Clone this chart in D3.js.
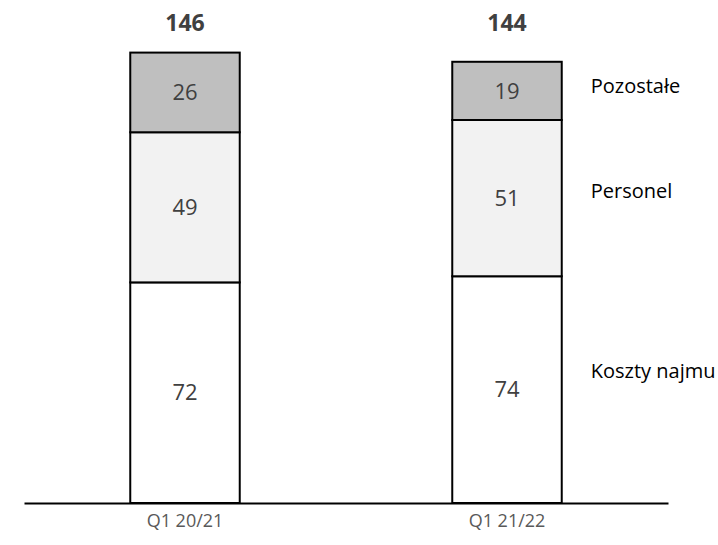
<!DOCTYPE html>
<html>
<head>
<meta charset="utf-8">
<script src="https://cdn.jsdelivr.net/npm/d3@7"></script>
<style>
  html, body { margin: 0; padding: 0; background: #fff; }
  svg { display: block; font-family: "Open Sans", "Noto Sans", sans-serif; }
</style>
</head>
<body>
<svg id="chart" width="718" height="545"></svg>
<script>
// Quarterly cost structure (stacked, bottom to top)
const periods = ["Q1 20/21", "Q1 21/22"];
const seriesNames = ["Koszty najmu", "Personel", "Pozostałe"];
const kosztyNajmu = [72, 74];
const personel = [49, 51];
const pozostale = [26, 19];
const totals = [146, 144];

const fills = ["#ffffff", "#f2f2f2", "#bfbfbf"];

const svg = d3.select("#chart");
const baseY = 503;

const x = d3.scaleBand()
  .domain(periods)
  .range([24, 668])
  .paddingInner(0.66)
  .paddingOuter(0.33);

const y = d3.scaleLinear()
  .domain([0, 150])
  .range([baseY, baseY - 150 * 3.064]);

const rows = periods.map((p, i) => ({
  period: p,
  "Koszty najmu": kosztyNajmu[i],
  "Personel": personel[i],
  "Pozostałe": pozostale[i],
  total: totals[i]
}));

const stacked = d3.stack().keys(seriesNames)(rows);

const layers = svg.selectAll("g.layer")
  .data(stacked)
  .join("g")
  .attr("class", "layer")
  .attr("fill", (d, i) => fills[i]);

layers.selectAll("rect")
  .data(d => d)
  .join("rect")
  .attr("x", d => x(d.data.period))
  .attr("width", x.bandwidth())
  .attr("y", d => y(d[1]))
  .attr("height", d => y(d[0]) - y(d[1]))
  .attr("stroke", "#000")
  .attr("stroke-width", 2);

// segment values
layers.selectAll("text")
  .data(d => d.map(v => ({ v, key: d.key })))
  .join("text")
  .attr("x", d => x(d.v.data.period) + x.bandwidth() / 2)
  .attr("y", d => (y(d.v[0]) + y(d.v[1])) / 2)
  .attr("dy", "0.35em")
  .attr("text-anchor", "middle")
  .attr("font-size", 22)
  .attr("fill", "#404040")
  .text(d => d.v.data[d.key]);

// totals above bars
svg.selectAll("text.total")
  .data(rows)
  .join("text")
  .attr("class", "total")
  .attr("x", d => x(d.period) + x.bandwidth() / 2)
  .attr("y", 23)
  .attr("dy", "0.35em")
  .attr("text-anchor", "middle")
  .attr("font-size", 23)
  .attr("font-weight", "bold")
  .attr("fill", "#404040")
  .text(d => d.total);

// baseline axis
const axis = d3.axisBottom(x).tickSize(0).tickPadding(11);
const axisG = svg.append("g")
  .attr("transform", `translate(0,${baseY})`)
  .call(axis);
axisG.select(".domain")
  .attr("stroke", "#000")
  .attr("stroke-width", 2);
axisG.selectAll(".tick text")
  .attr("font-family", "\"Open Sans\", \"Noto Sans\", sans-serif")
  .attr("font-size", 18)
  .attr("fill", "#595959");

// series labels beside the last bar
const lastStack = stacked.map(s => s[s.length - 1]);
const legendShift = [-19, -7, -5];
svg.selectAll("text.legend")
  .data(seriesNames)
  .join("text")
  .attr("class", "legend")
  .attr("x", x(periods[periods.length - 1]) + x.bandwidth() + 29)
  .attr("y", (d, i) => (y(lastStack[i][0]) + y(lastStack[i][1])) / 2 + legendShift[i])
  .attr("dy", "0.35em")
  .attr("font-size", 20)
  .attr("fill", "#000")
  .text(d => d);
</script>
</body>
</html>
